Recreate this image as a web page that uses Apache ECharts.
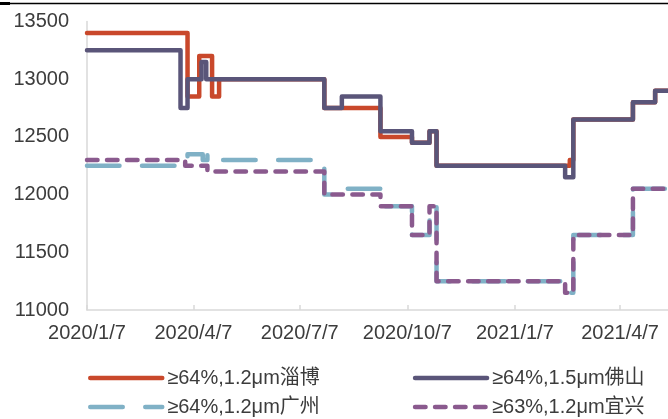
<!DOCTYPE html>
<html><head><meta charset="utf-8">
<script src="https://cdn.jsdelivr.net/npm/echarts@6/dist/echarts.min.js"></script>
<style>html,body{margin:0;padding:0;background:#fff}#c{width:668px;height:419px}</style>
</head><body><div id="c"></div>
<script>
const seriesNames = ['≥64%,1.2μm淄博', '≥64%,1.5μm佛山', '≥64%,1.2μm广州', '≥63%,1.2μm宜兴'];
const xTickLabels = ['2020/1/7', '2020/4/7', '2020/7/7', '2020/10/7', '2021/1/7', '2021/4/7'];
const xStart = '2020/1/7';
const xEnd = '2021/5/18';
const yMin = 11000, yMax = 13500, yStep = 500;

const ziboDates = ['2020/1/7','2020/4/2','2020/4/12','2020/4/23','2020/4/29','2020/7/28','2020/9/14','2020/10/11','2020/10/26','2020/11/1','2021/2/23','2021/2/26','2021/4/18','2021/5/7','2021/5/18'];
const ziboValues = [13400,12850,13200,12850,13000,12750,12500,12450,12550,12250,12300,12650,12800,12900,12900];

const foshanDates = ['2020/1/7','2020/3/27','2020/4/2','2020/4/14','2020/4/18','2020/7/28','2020/8/12','2020/9/14','2020/10/11','2020/10/26','2020/11/1','2021/2/19','2021/2/26','2021/4/18','2021/5/7','2021/5/18'];
const foshanValues = [13250,12750,13000,13150,13000,12750,12850,12550,12450,12550,12250,12150,12650,12800,12900,12900];

const guangzhouDates = ['2020/1/7','2020/4/2','2020/4/15','2020/4/19','2020/4/28','2020/7/28','2020/8/12','2020/9/14','2020/10/11','2020/10/26','2020/11/1','2021/2/19','2021/2/26','2021/4/18','2021/5/18'];
const guangzhouValues = [12250,12350,12300,12350,12300,12000,12050,11900,11650,11900,11250,11150,11650,12050,12050];

const yixingDates = ['2020/1/7','2020/3/31','2020/4/19','2020/7/28','2020/9/14','2020/10/11','2020/10/26','2020/11/1','2021/2/19','2021/2/26','2021/4/18','2021/5/18'];
const yixingValues = [12300,12250,12200,12000,11900,11650,11900,11250,11150,11650,12050,12050];

function parseD(s) { const p = s.split('/').map(Number); return Date.UTC(p[0], p[1] - 1, p[2]); }
const t0 = parseD(xStart);
function dayOf(s) { return Math.round((parseD(s) - t0) / 86400000); }
function pairs(ds, vs) { return ds.map((d, i) => [dayOf(d), vs[i]]); }
const tickDays = xTickLabels.map(dayOf);

const colors = ['#C9482B', '#5A5579', '#80B1C6', '#8A5A8E'];
const dashes = ['solid', 'solid', [32.5, 22.5], [10.5, 9.5]];
const allData = [pairs(ziboDates, ziboValues), pairs(foshanDates, foshanValues), pairs(guangzhouDates, guangzhouValues), pairs(yixingDates, yixingValues)];

const fontFam = '"Liberation Sans", Arial, "Noto Sans CJK SC", sans-serif';
const textCol = '#3c3c3c';

const chart = echarts.init(document.getElementById('c'), null, { renderer: 'canvas' });
const legendCommon = {
  orient: 'horizontal', left: 83, itemWidth: 72, itemHeight: 16, itemGap: 93,
  textStyle: { fontSize: 20, color: textCol, fontFamily: fontFam },
  lineStyle: { width: 4.5, cap: 'round' },
  itemStyle: { opacity: 0 },
  selectedMode: false
};
chart.setOption({
  animation: false,
  backgroundColor: '#fff',
  grid: { left: 87, right: 0, top: 21.5, bottom: 109, containLabel: false, outerBoundsMode: 'none' },
  legend: [
    Object.assign({}, legendCommon, { top: 363, data: [seriesNames[0], seriesNames[1]] }),
    Object.assign({}, legendCommon, { top: 392, data: [seriesNames[2], seriesNames[3]] })
  ],
  xAxis: {
    type: 'value', min: 0, max: dayOf(xEnd),
    axisLine: { show: true, lineStyle: { color: '#d9d9d9', width: 1.5 } },
    axisTick: { show: true, inside: true, length: 5, customValues: tickDays, lineStyle: { color: '#d9d9d9', width: 1.5 } },
    axisLabel: { customValues: tickDays, formatter: v => { const i = tickDays.indexOf(Math.round(v)); return i >= 0 ? xTickLabels[i] : ''; }, fontSize: 20, color: textCol, fontFamily: fontFam, margin: 13, hideOverlap: false },
    splitLine: { show: false }
  },
  yAxis: {
    type: 'value', min: yMin, max: yMax, interval: yStep,
    axisLine: { show: true, lineStyle: { color: '#d9d9d9', width: 1.5 } },
    axisTick: { show: false },
    axisLabel: { formatter: v => String(v), fontSize: 20, color: textCol, fontFamily: fontFam, margin: 18 },
    splitLine: { show: false }
  },
  graphic: [
    { type: 'line', shape: { x1: 0, y1: 3.5, x2: 668, y2: 3.5 }, style: { stroke: '#000', lineWidth: 1.5 }, silent: true },
    { type: 'line', shape: { x1: 0, y1: 3.5, x2: 10, y2: 3.5 }, style: { stroke: '#000', lineWidth: 3 }, silent: true }
  ],
  series: seriesNames.map((n, i) => ({
    name: n, type: 'line', step: 'end', data: allData[i],
    symbol: 'none', showSymbol: false,
    lineStyle: { color: colors[i], width: 4.5, type: dashes[i], cap: 'round', join: 'round' },
    itemStyle: { color: colors[i] },
    z: 2 + i
  }))
});
</script>
</body></html>
